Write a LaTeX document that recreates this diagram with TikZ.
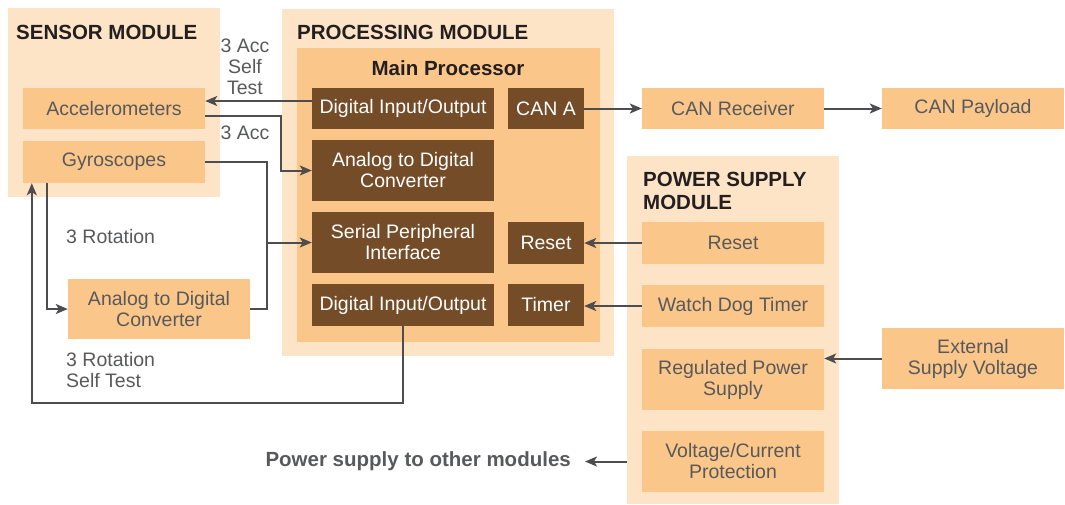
\documentclass[tikz,border=0pt]{standalone}
\usepackage{fontspec}
\setmainfont{Liberation Sans}
\usetikzlibrary{arrows.meta,calc}
\definecolor{bglight}{HTML}{FEE4C7}
\definecolor{boxmid}{HTML}{FBC68A}
\definecolor{boxdark}{HTML}{744C28}
\definecolor{txtgray}{HTML}{58595B}
\definecolor{titlec}{HTML}{231F20}
\definecolor{linec}{HTML}{4D4D4F}
\newcommand{\fsreg}{\fontsize{19.5}{21}\selectfont}
\newcommand{\fsbold}{\fontsize{20.5}{23}\selectfont\bfseries}
\begin{document}
\begin{tikzpicture}[x=1pt,y=-1pt,
 wh/.style 2 args={minimum width=#1, minimum height=#2},
 bgbox/.style={fill=bglight, inner sep=0pt},
 lbox/.style={fill=boxmid, inner sep=0pt, align=center, text=txtgray, font=\fsreg},
 dbox/.style={fill=boxdark, inner sep=0pt, align=center, text=white, font=\fsreg},
 ttl/.style={text=titlec, font=\fsbold, inner sep=0pt, align=left},
 lbl/.style={text=txtgray, font=\fsreg, inner sep=0pt, align=center},
 conn/.style={draw=linec, line width=2pt},
 arr/.style={conn, -{Stealth[length=12pt,width=10pt,inset=3pt]}}
]
\useasboundingbox (0,0) rectangle (1065,504);

% backgrounds
\node[bgbox, wh={212}{189}] (sens) at (114,102.5) {};
\node[bgbox, wh={332}{347}] (proc) at (448,182.5) {};
\node[fill=boxmid, inner sep=0pt, wh={303}{294}] (mainp) at (448.5,195) {};
\node[bgbox, wh={212}{348}] (pwr) at (733,330) {};

% titles
\node[ttl, anchor=west] (tsens) at (16,32) {SENSOR MODULE};
\node[ttl, anchor=west] (tproc) at (297,32) {PROCESSING MODULE};
\node[ttl] (tmain) at (448,68) {Main Processor};
\node[ttl, anchor=west] (tpwr) at (643,190.5) {POWER SUPPLY\\MODULE};

% sensor module
\node[lbox, wh={182}{41}] (acc) at (114,108.5) {Accelerometers};
\node[lbox, wh={182}{42}] (gyro) at (114,162) {Gyroscopes};
\node[lbox, wh={182}{60}] (sadc) at (159,309) {Analog to Digital\\Converter};

% processing module
\node[dbox, wh={182}{41}] (dio1) at (403,108.5) {Digital Input/Output};
\node[dbox, wh={76}{41}] (cana) at (546,108.5) {CAN A};
\node[dbox, wh={182}{61}] (padc) at (403,170.5) {Analog to Digital\\Converter};
\node[dbox, wh={182}{61}] (spi) at (403,242.5) {Serial Peripheral\\Interface};
\node[dbox, wh={76}{42}] (preset) at (546,243) {Reset};
\node[dbox, wh={182}{42}] (dio2) at (403,305) {Digital Input/Output};
\node[dbox, wh={76}{42}] (timer) at (546,305) {Timer};

% CAN
\node[lbox, wh={182}{41}] (canrx) at (733,108.5) {CAN Receiver};
\node[lbox, wh={182}{41}] (canpay) at (973,108.5) {CAN Payload};

% power supply module
\node[lbox, wh={182}{42}] (reset) at (733,243) {Reset};
\node[lbox, wh={182}{42}] (wdt) at (733,306) {Watch Dog Timer};
\node[lbox, wh={182}{61}] (reg) at (733,379.5) {Regulated Power\\Supply};
\node[lbox, wh={182}{61}] (vcp) at (733,461.5) {Voltage/Current\\Protection};
\node[lbox, wh={182}{61}] (ext) at (973,358.5) {External\\Supply Voltage};

% labels
\node[lbl] (l1) at (245,66.5) {3 Acc\\Self\\Test};
\node[lbl] (l2) at (245,133) {3 Acc};
\node[lbl, anchor=west] (l3) at (66,236.5) {3 Rotation};
\node[lbl, anchor=west, align=left] (l4) at (66,370.5) {3 Rotation\\Self Test};
\node[text=txtgray, font=\fsbold, inner sep=0pt, anchor=base east] (pso) at (571,466) {Power supply to other modules};
\coordinate (psoend) at (585,461.5);

% connectors
\draw[arr] ([yshift=7.5pt]dio1.west) -- ([yshift=7.5pt]acc.east);
\draw[arr] ([yshift=-7.5pt]acc.east) -| ($(padc.west)+(-31,0)$) -- (padc.west);
\draw[arr] (gyro.east) -| ($(spi.west)+(-45,0)$) -- (spi.west);
\draw[conn] (sadc.east) -| ($(spi.west)+(-45,0)$);
\draw[arr] ($(gyro.south west)+(24,0)$) |- (sadc.west);
\draw[arr] (dio2.south) -- ++(0,77) -| ($(gyro.south west)+(9,0)$);
\draw[arr] (cana.east) -- (canrx.west);
\draw[arr] (canrx.east) -- (canpay.west);
\draw[arr] (reset.west) -- (preset.east);
\draw[arr] (wdt.west) -- (wdt.west -| timer.east);
\draw[arr] (ext.west) -- (ext.west -| reg.east);
\draw[arr] (pwr.west |- vcp.center) -- (psoend);
\end{tikzpicture}
\end{document}
